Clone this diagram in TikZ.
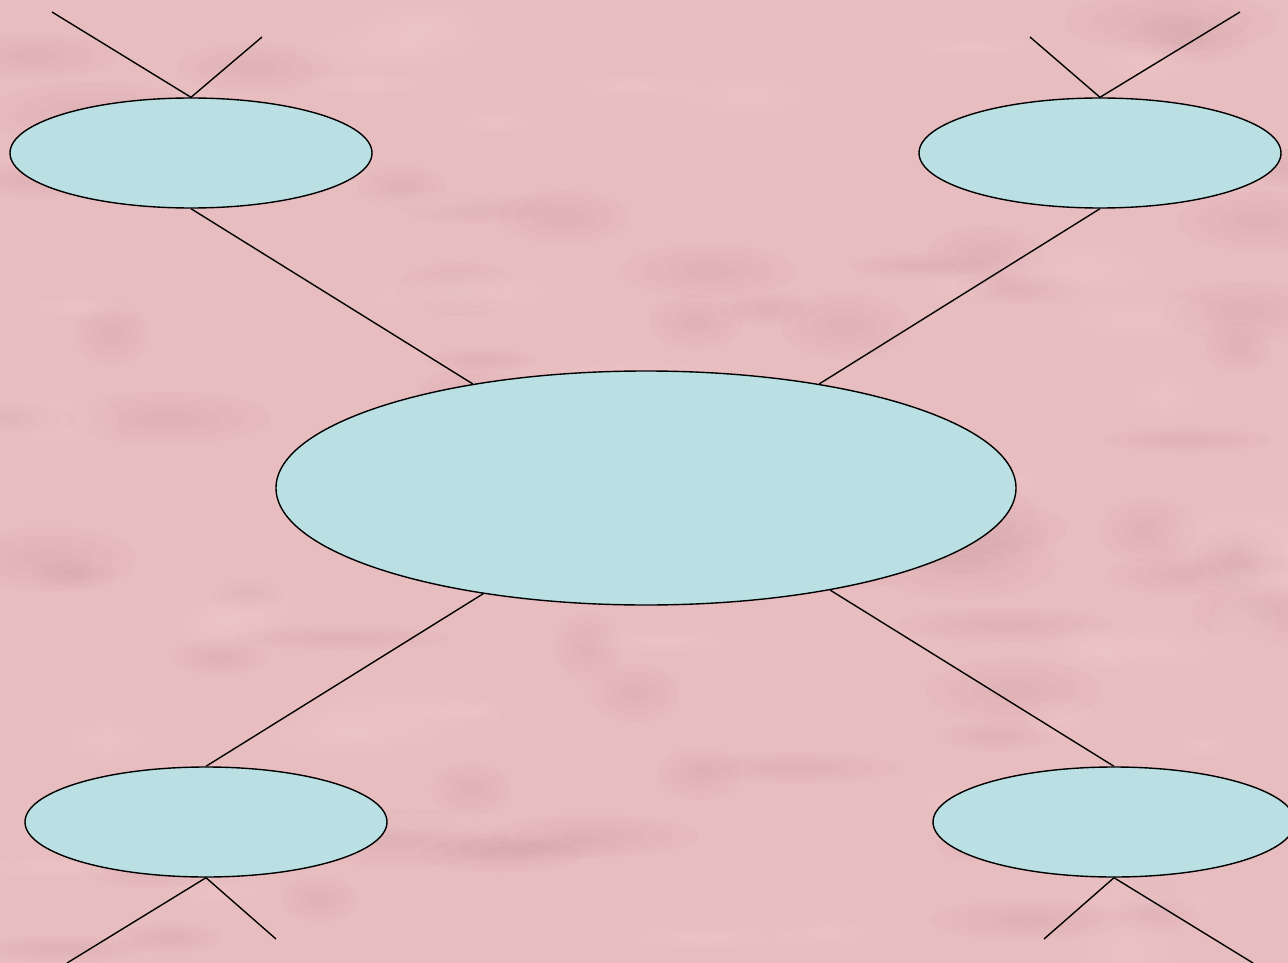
\documentclass[tikz,border=0pt]{standalone}
\usetikzlibrary{shapes.geometric}

\definecolor{bgpink}{RGB}{232,189,192}
\definecolor{bgdark}{RGB}{200,145,150}
\definecolor{bglight}{RGB}{247,212,215}
\definecolor{cellcyan}{RGB}{187,224,227}

\tikzset{
    cell/.style={ellipse, draw=black, line width=1.4pt, fill=cellcyan,
        inner sep=0pt, minimum width=362pt, minimum height=110pt},
    hub/.style={cell, minimum width=740pt, minimum height=234pt},
    link/.style={line width=1.4pt}
}

\begin{document}
\begin{tikzpicture}[x=1pt, y=-1pt]
            \useasboundingbox (0,0) rectangle (1288,963);
            \fill[bgpink] (0,0) rectangle (1288,963);

            % mottled backdrop, soft blobs
            \pgfmathsetseed{17}
            \foreach \i in {1,...,70} {
                \pgfmathsetmacro{\bx}{random(0,1288)}
                \pgfmathsetmacro{\by}{random(0,963)}
                \pgfmathsetmacro{\bw}{random(30,110)}
                \pgfmathsetmacro{\bh}{random(10,35)}
                \foreach \s in {1,0.75,0.5,0.3}
                    \fill[bgdark, opacity=0.05] (\bx,\by) ellipse ({\s*\bw} and {\s*\bh});
            }
            \foreach \i in {1,...,50} {
                \pgfmathsetmacro{\bx}{random(0,1288)}
                \pgfmathsetmacro{\by}{random(0,963)}
                \pgfmathsetmacro{\bw}{random(30,100)}
                \pgfmathsetmacro{\bh}{random(10,30)}
                \foreach \s in {1,0.75,0.5,0.3}
                    \fill[bglight, opacity=0.08] (\bx,\by) ellipse ({\s*\bw} and {\s*\bh});
            }

            \node[hub] (core) at (646,488) {};
            \node[cell] (nw) at (191,153) {};
            \node[cell] (ne) at (1100,153) {};
            \node[cell] (sw) at (206,822) {};
            \node[cell] (se) at (1114,822) {};

            \coordinate (nwa) at (52,12);
            \coordinate (nwb) at (262,37);
            \coordinate (nea) at (1240,12);
            \coordinate (neb) at (1030,37);
            \coordinate (swa) at (67,963);
            \coordinate (swb) at (276,939);
            \coordinate (sea) at (1253,963);
            \coordinate (seb) at (1044,939);

            \draw[link] (nw.south) -- (core.149);
            \draw[link] (ne.south) -- (core.31);
            \draw[link] (sw.north) -- (core.213);
            \draw[link] (se.north) -- (core.-29);

            \draw[link] (nwa) -- (nw.north) -- (nwb);
            \draw[link] (nea) -- (ne.north) -- (neb);
            \draw[link] (swa) -- (sw.south) -- (swb);
            \draw[link] (sea) -- (se.south) -- (seb);
        \end{tikzpicture}
\end{document}
